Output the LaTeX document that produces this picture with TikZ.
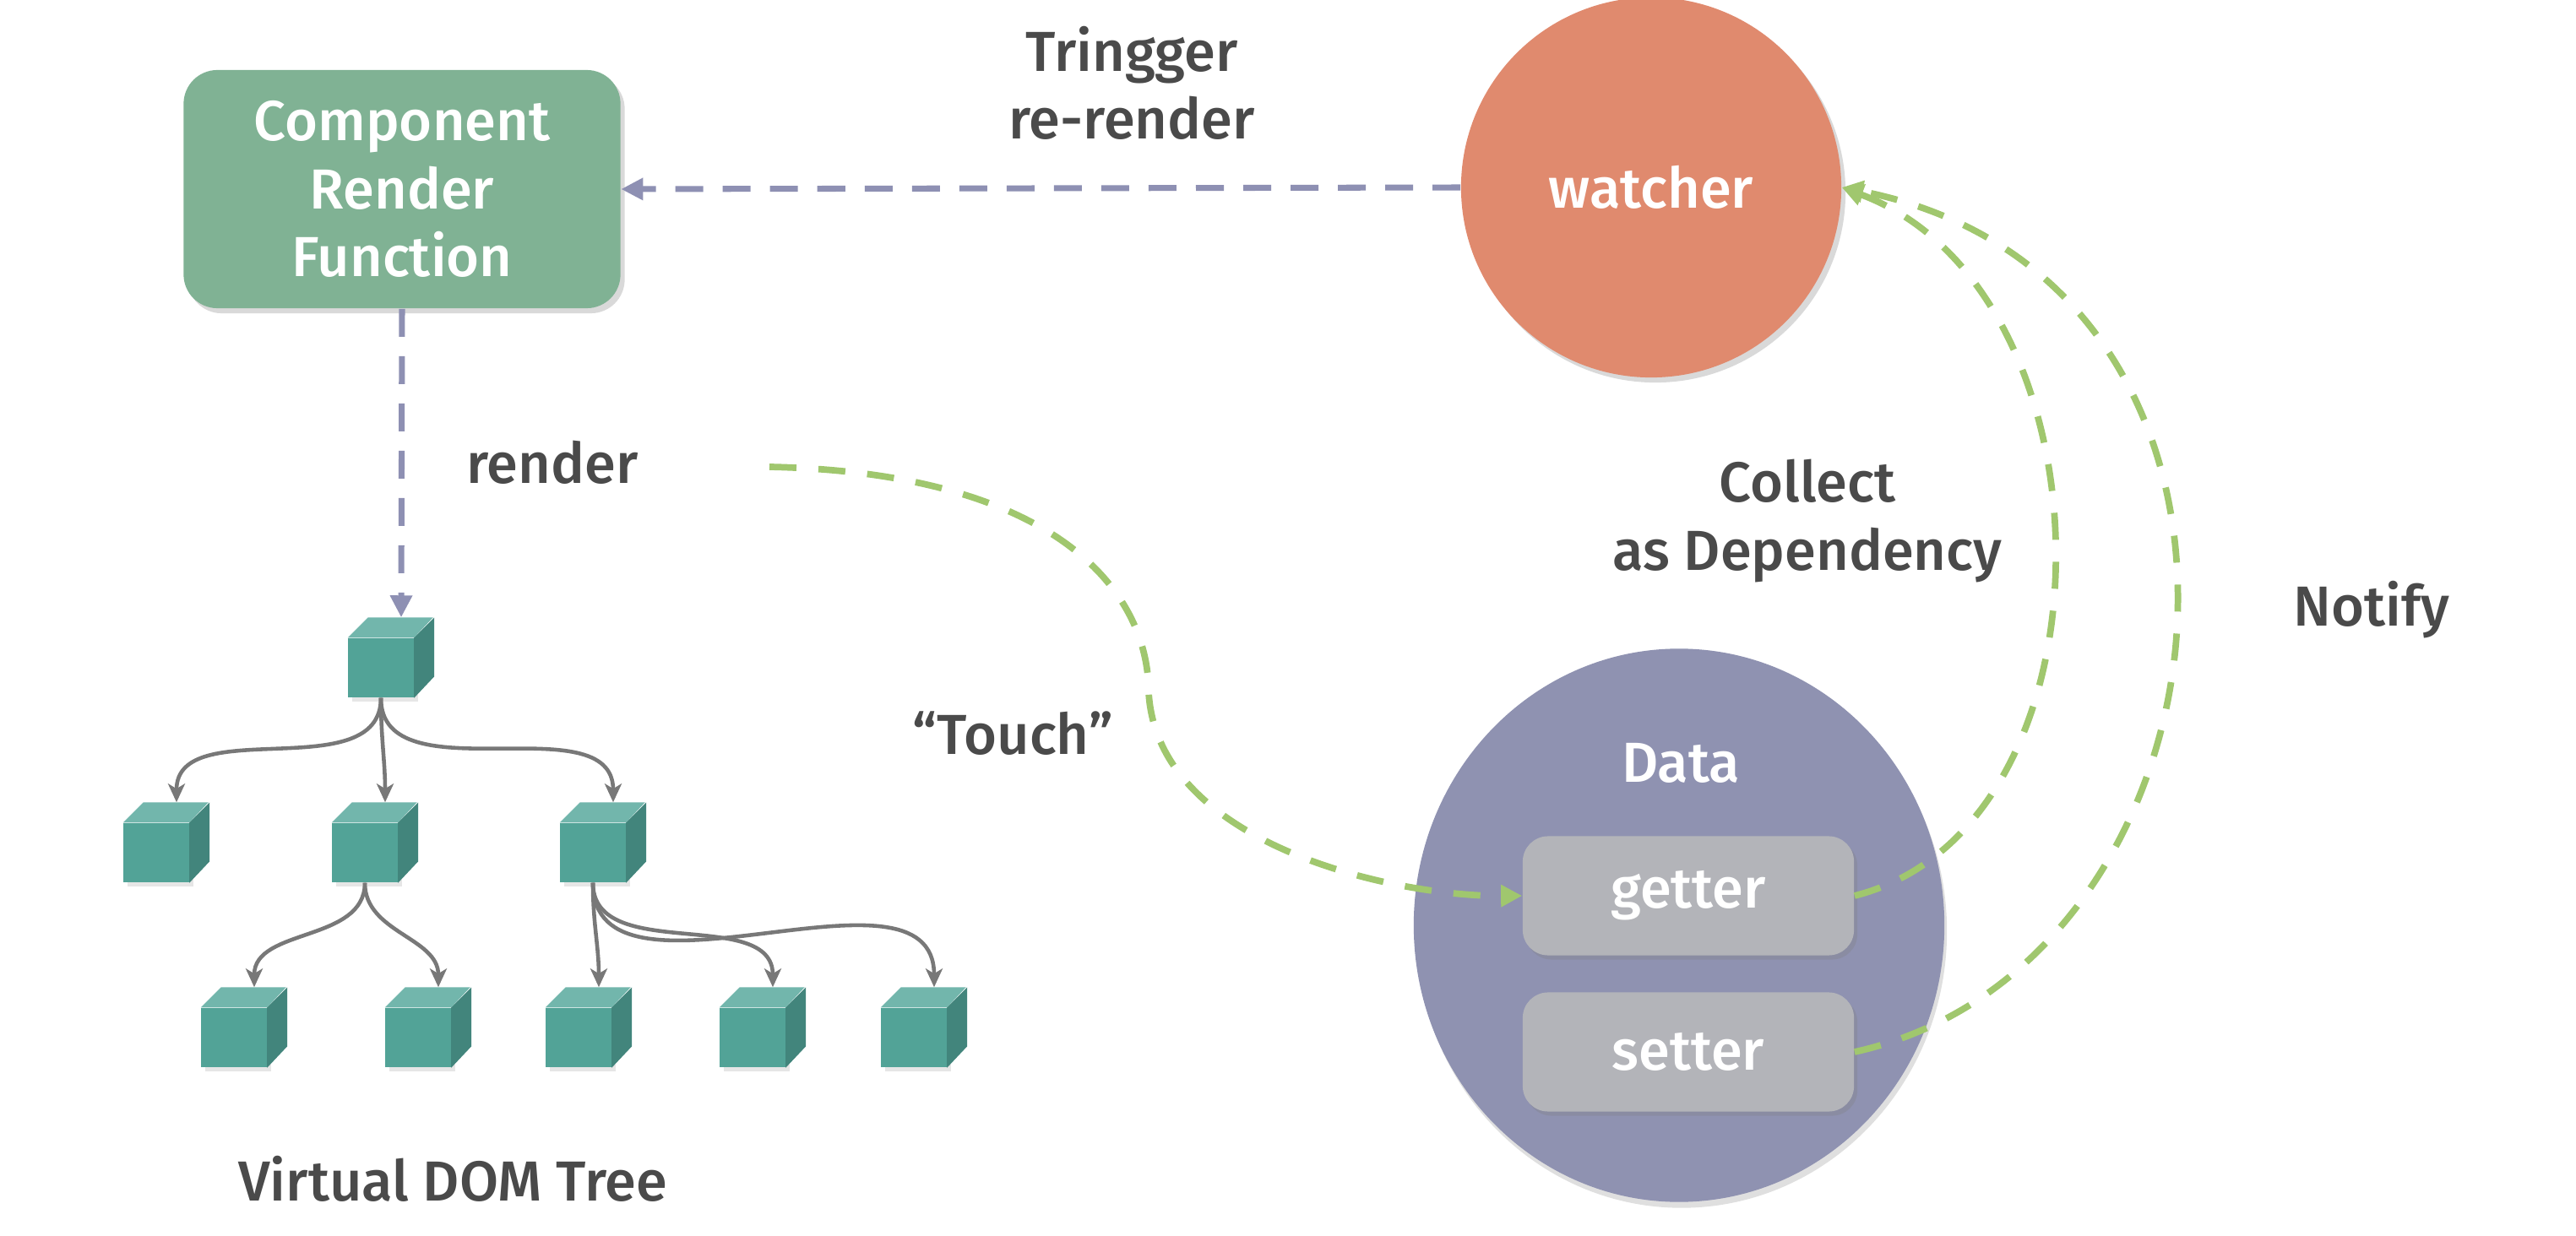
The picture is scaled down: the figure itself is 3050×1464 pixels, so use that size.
\documentclass[tikz,border=0pt]{standalone}
\usepackage{fontspec}
\setmainfont{Fira Sans}
\newfontfamily\labelfont{Fira Sans Medium}
\usetikzlibrary{positioning, shapes.geometric, arrows.meta, shadows}

\definecolor{compgreen}{HTML}{80B294}
\definecolor{watcherred}{HTML}{E08A6E}
\definecolor{datapurple}{HTML}{8F92B1}
\definecolor{accgray}{HTML}{B3B4B9}
\definecolor{cubefront}{HTML}{52A397}
\definecolor{cubetop}{HTML}{72B6AC}
\definecolor{cubeside}{HTML}{42857C}
\definecolor{edgegray}{HTML}{787878}
\definecolor{dashpurple}{HTML}{8E90B3}
\definecolor{dashgreen}{HTML}{A0C76E}
\definecolor{darktext}{HTML}{4A4A4A}

\begin{document}
\begin{tikzpicture}[x=0.01cm, y=-0.01cm]
    % Styles
    \tikzset{
        render_box/.style={rectangle, fill=compgreen, rounded corners=0.4cm, minimum width=5.17cm, minimum height=2.82cm, align=center, text=white, font=\labelfont\fontsize{19}{22.8}\selectfont, drop shadow={opacity=0.3, shadow xshift=0.05cm, shadow yshift=-0.06cm}},
        watcher_circle/.style={circle, fill=watcherred, minimum size=4.5cm, inner sep=0pt, text=white, font=\labelfont\fontsize{19}{22.8}\selectfont, drop shadow={opacity=0.3, shadow xshift=0.05cm, shadow yshift=-0.06cm}},
        data_ellipse/.style={ellipse, fill=datapurple, minimum width=6.28cm, minimum height=6.55cm, inner sep=0pt, drop shadow={opacity=0.25, shadow xshift=0.03cm, shadow yshift=-0.07cm}},
        accessor/.style={rectangle, fill=accgray, rounded corners=0.3cm, minimum width=3.92cm, minimum height=1.41cm, text=white, font=\labelfont\fontsize{19}{22.8}\selectfont, drop shadow={opacity=0.3, shadow xshift=0.04cm, shadow yshift=-0.05cm}},
        vnode/.style={rectangle, fill=cubefront, minimum width=0.77cm, minimum height=0.70cm, inner sep=0pt, drop shadow={opacity=0.2, shadow xshift=0.05cm, shadow yshift=-0.05cm}},
        label_text/.style={text=darktext, align=center, font=\labelfont\fontsize{19}{22.8}\selectfont},
        trigger_line/.style={draw=dashpurple, line width=2pt, dash pattern=on 0.33cm off 0.23cm, -{Triangle[length=0.26cm, width=0.25cm]}},
        dep_line/.style={draw=dashgreen, line width=2.2pt, dash pattern=on 0.32cm off 0.26cm, -{Triangle[length=0.25cm, width=0.25cm]}},
        tree_edge/.style={draw=edgegray, line width=1.3pt, -{Stealth[length=0.22cm, width=0.2cm, inset=0.06cm]}}
    }

    \useasboundingbox (0,0) rectangle (3050,1464);

    % --- Nodes ---

    % Render function and watcher
    \node[render_box] (render_fn) at (476,224) {Component\\Render\\Function};
    \node[watcher_circle] (watcher) at (1955,222) {watcher};

    % Data object with its accessors
    \node[data_ellipse] (data) at (1988,1096) {};
    \node[text=white, font=\labelfont\fontsize{19}{22.8}\selectfont] (data_label) at (1990,904) {Data};
    \node[accessor] (getter) at (1999,1061) {getter};
    \node[accessor] (setter) at (1999,1246) {setter};

    % Virtual DOM tree
    \node[vnode] (dom_root) at (451,791) {};
    \node[vnode] (dom_a) at (185,1010) {};
    \node[vnode] (dom_b) at (432,1010) {};
    \node[vnode] (dom_c) at (702,1010) {};
    \node[vnode] (dom_b1) at (277,1229) {};
    \node[vnode] (dom_b2) at (495,1229) {};
    \node[vnode] (dom_c1) at (685,1229) {};
    \node[vnode] (dom_c2) at (891,1229) {};
    \node[vnode] (dom_c3) at (1082,1229) {};

    % top and side faces of the cubes
    \foreach \n in {dom_root, dom_a, dom_b, dom_c, dom_b1, dom_b2, dom_c1, dom_c2, dom_c3} {
        \fill[cubetop] (\n.north west) -- ++(24,-24) -- ++(77,0) -- (\n.north east) -- cycle;
        \fill[cubeside] (\n.north east) -- ++(24,-24) -- ++(0,70) -- (\n.south east) -- cycle;
        \coordinate (\n_top) at ([shift={(24,-24)}]\n.north);
    }

    % Labels
    \node[label_text] (trigger_label) at (1340,98) {Tringger\\re-render};
    \node[label_text] (render_label) at (654,548) {render};
    \node[label_text] (touch_label) at (1199,869) {“Touch”};
    \node[label_text] (collect_label) at (2140,617) {Collect\\as Dependency};
    \node[label_text] (notify_label) at (2808,722) {Notify};
    \node[label_text] (tree_label) at (536,1396) {Virtual DOM Tree};

    % --- Connections ---

    % Watcher triggers the render function
    \draw[trigger_line] (watcher.west) -- (render_fn.east);

    % Render function renders the tree
    \draw[trigger_line] (render_fn.south) -- (dom_root_top);

    % Tree edges
    \foreach \p/\c in {dom_root/dom_a, dom_root/dom_b, dom_root/dom_c, dom_b/dom_b1, dom_b/dom_b2, dom_c/dom_c1, dom_c/dom_c2, dom_c/dom_c3} {
        \draw[tree_edge] (\p.south) to[out=270, in=90] (\c_top);
    }

    % "Touch" reaches the getter
    \coordinate (touch_start) at (911,553);
    \draw[dep_line] (touch_start) .. controls (1250,560) and (1360,700) .. (1360,820) .. controls (1370,1000) and (1650,1062) .. (getter.west);

    % Getter collects the watcher as dependency
    \draw[dep_line] (getter.east) .. controls (2515,980) and (2510,345) .. (watcher.east);

    % Setter notifies the watcher
    \draw[dep_line] (setter.east) .. controls (2665,1142) and (2743,333) .. (watcher.east);

\end{tikzpicture}
\end{document}
